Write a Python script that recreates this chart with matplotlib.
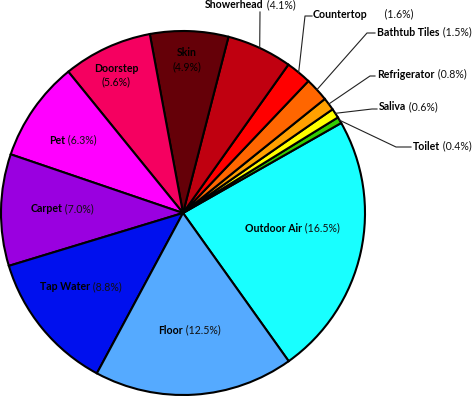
import matplotlib
matplotlib.use("Agg")
import matplotlib.pyplot as plt
import numpy as np

# share of sources (%), in counter-clockwise drawing order
sources = ["Outdoor Air", "Toilet", "Saliva", "Refrigerator", "Bathtub Tiles",
           "Countertop", "Showerhead", "Skin", "Doorstep", "Pet", "Carpet",
           "Tap Water", "Floor"]
shares = [16.5, 0.4, 0.6, 0.8, 1.5, 1.6, 4.1, 4.9, 5.6, 6.3, 7.0, 8.8, 12.5]
colors = ["#18FFFF", "#33CC00", "#FFFF00", "#FFA000", "#FF6600", "#FF0000",
          "#C00010", "#650008", "#F50060", "#FF00FF", "#9A00E0", "#0010EE",
          "#55AAFF"]

W, H = 473, 396
CX, CY, R = 183, H - 213, 182
FS = 7.6
FONT = "Lato"

fig = plt.figure(figsize=(W / 100, H / 100), dpi=100)
ax = fig.add_axes([0, 0, 1, 1])
wedges, _ = ax.pie(shares, colors=colors, startangle=-54.5, center=(CX, CY),
                   radius=R, wedgeprops=dict(edgecolor="black", linewidth=1.5))
ax.set_xlim(0, W)
ax.set_ylim(0, H)
ax.set_aspect("equal")
ax.axis("off")

renderer = fig.canvas.get_renderer()


def pct_text(v):
    return f"({v:.1f}%)"


def mixed(x, y, name, pct, ha="center", gap=" "):
    # bold name followed by regular percentage, y given in image pixels
    y = H - y
    t1 = ax.text(0, y, name, fontsize=FS, fontweight="bold", family=FONT, va="center")
    t2 = ax.text(0, y, gap + pct, fontsize=FS, family=FONT, va="center", color="#111111")
    w1 = t1.get_window_extent(renderer).width
    w2 = t2.get_window_extent(renderer).width
    x0 = x - (w1 + w2) / 2 if ha == "center" else x
    t1.set_x(x0)
    t2.set_x(x0 + w1)


def two_line(x, y, name, pct):
    ax.text(x, H - y, name, fontsize=FS, fontweight="bold", family=FONT,
            ha="center", va="center")
    ax.text(x, H - y - 14, pct, fontsize=FS, family=FONT, ha="center", va="center")


inner_pos = {
    "Outdoor Air": (292, 228), "Floor": (189, 330), "Tap Water": (81, 287),
    "Carpet": (62, 209), "Pet": (73, 140),
}
stacked_pos = {"Doorstep": (116, 68), "Skin": (187, 53)}
# elbow x, elbow y, line end x, text x, text y (image pixels)
outer_pos = {
    "Showerhead": (260, 12, 260, 205, 5),
    "Countertop": (305, 16, 312, 313, 14),
    "Bathtub Tiles": (367, 33, 375, 377, 32),
    "Refrigerator": (370, 76, 375, 377, 74),
    "Saliva": (372, 109, 377, 379, 107),
    "Toilet": (396, 147, 411, 413, 146),
}

for w, name, v in zip(wedges, sources, shares):
    if name in inner_pos:
        mixed(*inner_pos[name], name, pct_text(v))
    elif name in stacked_pos:
        two_line(*stacked_pos[name], name, pct_text(v))
    else:
        ex, ey, lx, tx, ty = outer_pos[name]
        a = np.deg2rad((w.theta1 + w.theta2) / 2)
        sx, sy = CX + R * np.cos(a), CY + R * np.sin(a)
        ax.plot([sx, ex, lx], [sy, H - ey, H - ey], color="#222222", lw=0.8)
        gap = "      " if name == "Countertop" else " "
        mixed(tx, ty, name, pct_text(v), ha="left", gap=gap)

fig.savefig("out.png", dpi=100)
